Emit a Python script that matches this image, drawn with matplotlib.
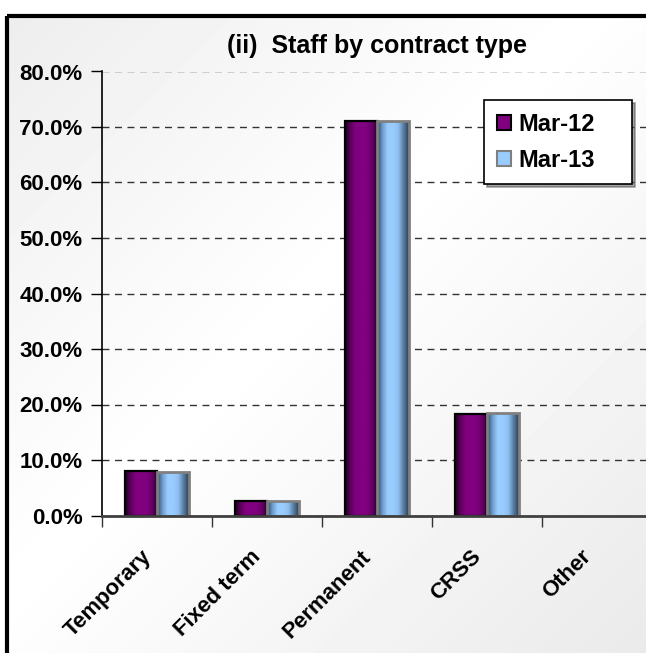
import numpy as np
import matplotlib
matplotlib.use("Agg")
import matplotlib.pyplot as plt
from matplotlib.colors import LinearSegmentedColormap
from matplotlib.patches import Rectangle
from matplotlib.ticker import FuncFormatter, FixedLocator

categories = ["Temporary", "Fixed term", "Permanent", "CRSS", "Other"]
series_names = ["Mar-12", "Mar-13"]
mar12 = [8.1, 2.6, 71.1, 18.2, 0.0]
mar13 = [7.8, 2.6, 71.1, 18.4, 0.0]

plt.rcParams["font.family"] = ["Liberation Sans", "DejaVu Sans"]
plt.rcParams["font.weight"] = "bold"

W, H = 646, 653
fig = plt.figure(figsize=(W / 100, H / 100), dpi=100, facecolor="white")

# light diagonal background inside the chart frame
bg = fig.add_axes([0, 0, 1, 1], zorder=-1)
bg.set_xlim(0, W)
bg.set_ylim(H, 0)
bg.axis("off")
xx, yy = np.meshgrid(np.linspace(0, 1, 200), np.linspace(0, 1, 200))
d = (xx + yy) / 2
shade = 1 - 0.085 * np.abs(d - 0.45) / 0.55
bg.imshow(shade, cmap="gray", vmin=0, vmax=1, extent=[7, W + 10, H + 10, 16],
          aspect="auto", interpolation="bicubic")
bg.add_patch(Rectangle((7, 16), W, H, fill=False, edgecolor="black", linewidth=3))

ax = fig.add_axes([102 / W, 137.5 / H, 550 / W, 444 / H], zorder=1)
ax.patch.set_alpha(0)

x = np.arange(len(categories))
width = 0.29
purple_cmap = LinearSegmentedColormap.from_list(
    "purple", ["#1c001c", "#5c005c", "#800080", "#800080", "#800080", "#6a006a", "#3a003a"])
blue_cmap = LinearSegmentedColormap.from_list(
    "blue", ["#2c4660", "#6f9ccc", "#99ccff", "#99ccff", "#8fc0f0", "#5a7fa6", "#2c4056"])

def shaded_bars(xpos, values, cmap, edge, lw):
    bars = ax.bar(xpos, values, width, color=cmap(0.5), linewidth=0, zorder=2)
    grad = np.linspace(0, 1, 64).reshape(1, -1)
    for rect in bars:
        h = rect.get_height()
        if h <= 0:
            continue
        x0 = rect.get_x()
        im = ax.imshow(grad, cmap=cmap, extent=[x0, x0 + rect.get_width(), 0, h],
                       aspect="auto", interpolation="bilinear", zorder=2.2)
        im.set_clip_path(rect)
    outline = [v if v > 0 else np.nan for v in values]
    ax.bar(xpos, outline, width, fill=False, edgecolor=edge, linewidth=lw, zorder=3)
    return bars

b1 = shaded_bars(x - width / 2, mar12, purple_cmap, "black", 1.6)
b2 = shaded_bars(x + width / 2, mar13, blue_cmap, "#808080", 2.0)

ax.set_xlim(-0.5, len(categories) - 0.5)
ax.set_ylim(0, 80)
ax.set_aspect("auto")

ax.yaxis.set_major_locator(FixedLocator(np.arange(0, 81, 10)))
ax.yaxis.set_major_formatter(FuncFormatter(lambda v, _: f"{v:.1f}%"))
ax.grid(axis="y", linestyle=(0, (5, 4)), color="#333333", linewidth=1)
ax.set_axisbelow(True)

ax.set_xticks(x)
ax.set_xticklabels([])
ax.set_xticks(np.arange(-0.5, len(categories), 1.0), minor=True)
ax.tick_params(axis="x", which="major", length=0)
ax.tick_params(axis="x", which="minor", length=8, width=1, color="#333333")
ax.tick_params(axis="y", length=8, width=1, pad=6, labelsize=16, color="black")

for i, name in enumerate(categories):
    ax.annotate(name, xy=(x[i], 0), xycoords=("data", "axes fraction"),
                xytext=(-9, -38), textcoords="offset pixels",
                rotation=45, rotation_mode="anchor", ha="right", va="center",
                fontsize=16, fontweight="bold")

for side in ("top", "right"):
    ax.spines[side].set_visible(False)
ax.spines["left"].set_color("black")
ax.spines["left"].set_linewidth(1.2)
ax.spines["bottom"].set_color("#404040")
ax.spines["bottom"].set_linewidth(2)
ax.spines["bottom"].set_zorder(4)

ax.set_title("(ii)  Staff by contract type", fontsize=18, fontweight="bold", pad=13)

# legend box stretched to a fixed width, text stays left-aligned
leg = ax.legend([b1, b2], series_names, loc="upper left",
                bbox_to_anchor=(484 / W, 1 - 182 / H, 148 / W, 82 / H),
                bbox_transform=fig.transFigure, mode="expand",
                borderaxespad=0, fontsize=17, frameon=True, fancybox=False,
                shadow=True, handlelength=0.6, handleheight=0.6, handletextpad=0.3,
                labelspacing=0.53, borderpad=0.55)
leg.get_frame().set_edgecolor("black")
leg.get_frame().set_linewidth(1.2)
leg.get_frame().set_facecolor("white")
for handle, edge in zip(leg.legend_handles, ["black", "#808080"]):
    handle.set_edgecolor(edge)
    handle.set_linewidth(1.5)

fig.savefig("out.png", dpi=100)
